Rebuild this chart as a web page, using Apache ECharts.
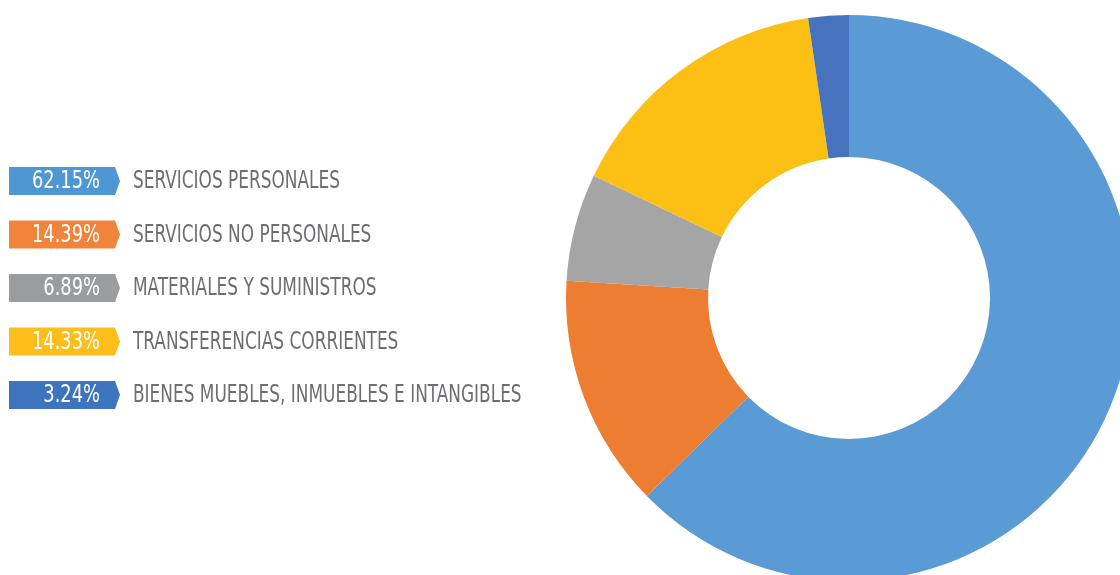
<!DOCTYPE html>
<html>
<head>
<meta charset="utf-8">
<script src="https://cdn.jsdelivr.net/npm/echarts@6/dist/echarts.min.js"></script>
<style>
html,body{margin:0;padding:0;background:#fff;}
#chart{width:1120px;height:575px;}
</style>
</head>
<body>
<div id="chart"></div>
<script>
// Categories and values
var categories = ['SERVICIOS PERSONALES', 'SERVICIOS NO PERSONALES', 'MATERIALES Y SUMINISTROS', 'TRANSFERENCIAS CORRIENTES', 'BIENES MUEBLES, INMUEBLES E INTANGIBLES'];
var percentLabels = ['62.15%', '14.39%', '6.89%', '14.33%', '3.24%'];
// slice sizes as drawn in the picture (percent of the ring)
var sliceValues = [62.67, 13.31, 6.14, 15.58, 2.31];
var sliceColors = ['#5B9BD5', '#ED7D31', '#A5A5A5', '#FCC014', '#4672BE'];
var tagColors = ['#4F96D4', '#F0843A', '#9B9C9E', '#FDBE1B', '#3E74BE'];

var FONT = "'Liberation Sans Narrow', 'DejaVu Sans Condensed', 'Roboto', sans-serif";
var FS = 24;
var cv = document.createElement('canvas').getContext('2d');
cv.font = FS + 'px ' + FONT;
var labelScale = 207 / cv.measureText(categories[0]).width;
var pctScale = 68 / cv.measureText(percentLabels[0]).width;

var rowY0 = 181, rowStep = 53.5;
var graphics = [];
categories.forEach(function (name, i) {
  var y = rowY0 + i * rowStep;
  graphics.push({
    type: 'polygon', silent: true,
    shape: { points: [[9, y - 14], [115, y - 14], [120, y], [115, y + 14], [9, y + 14]] },
    style: { fill: tagColors[i] }
  });
  graphics.push({
    type: 'text', silent: true, x: 100, y: y + 1, scaleX: pctScale,
    style: { text: percentLabels[i], fill: '#ffffff', font: FS + 'px ' + FONT, textAlign: 'right', textVerticalAlign: 'middle' }
  });
  graphics.push({
    type: 'text', silent: true, x: 133, y: y + 1, scaleX: labelScale,
    style: { text: name, fill: '#6D6E71', font: FS + 'px ' + FONT, textAlign: 'left', textVerticalAlign: 'middle' }
  });
});

var chart = echarts.init(document.getElementById('chart'), null, { renderer: 'canvas' });
chart.setOption({
  animation: false,
  backgroundColor: '#ffffff',
  series: [{
    type: 'pie',
    center: [849, 298],
    radius: [141, 283],
    startAngle: 90,
    clockwise: true,
    silent: true,
    label: { show: false },
    labelLine: { show: false },
    itemStyle: { borderWidth: 0 },
    data: categories.map(function (c, i) {
      return { name: c, value: sliceValues[i], itemStyle: { color: sliceColors[i] } };
    })
  }],
  graphic: graphics
});
</script>
</body>
</html>
